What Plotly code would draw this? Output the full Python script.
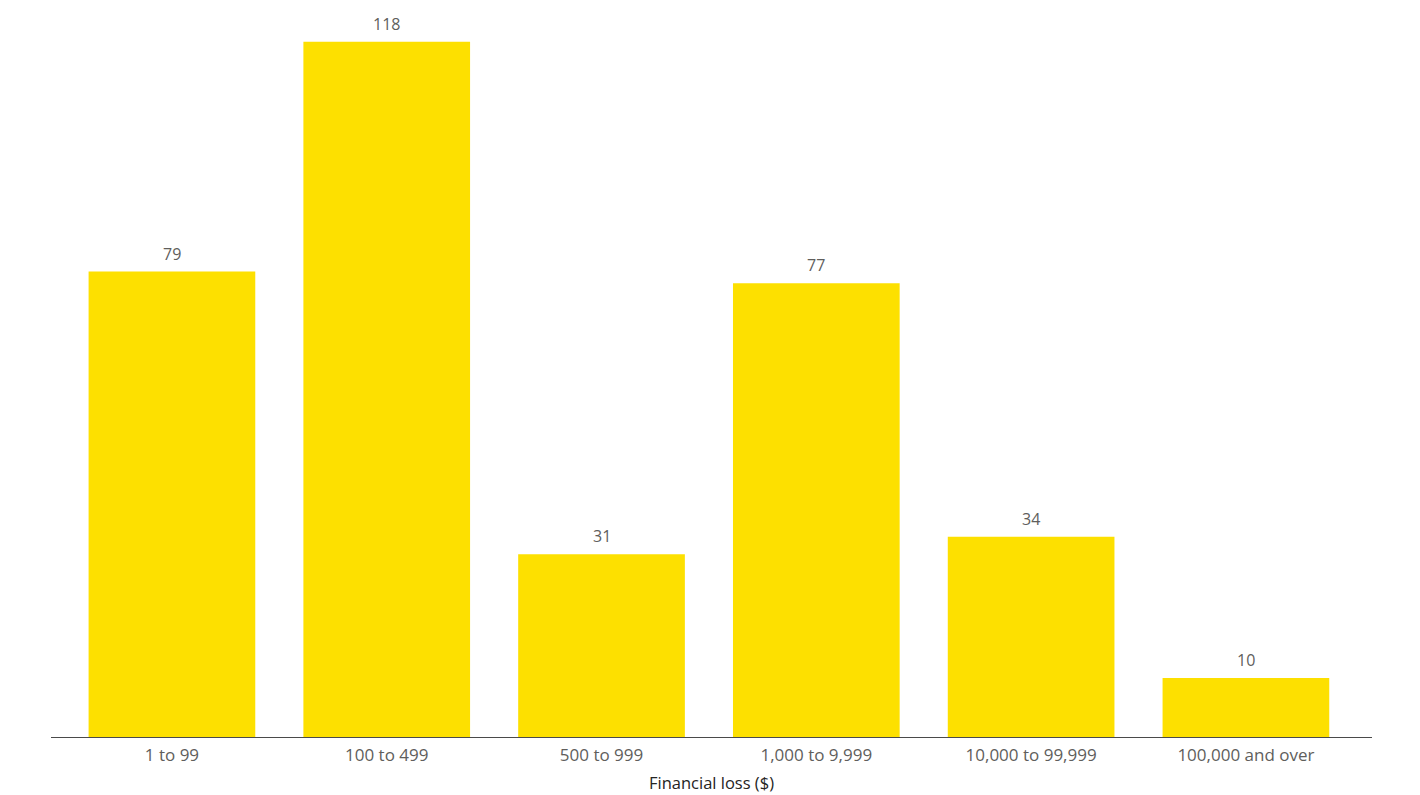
import plotly.graph_objects as go

# loss bands and how many reports fell in each
loss_bands = ["1 to 99", "100 to 499", "500 to 999", "1,000 to 9,999",
              "10,000 to 99,999", "100,000 and over"]
counts = [79, 118, 31, 77, 34, 10]

BAR_COLOR = "#FDE000"
LABEL_GREY = "#605E5C"
FONT = "Open Sans, Segoe UI, sans-serif"

xpos = list(range(len(loss_bands)))

fig = go.Figure(
    go.Bar(
        x=xpos,
        y=counts,
        marker=dict(color=BAR_COLOR, line=dict(width=0)),
        hoverinfo="x+y",
    )
)

# value labels sit a little higher above the bars than plotly's own outside text
for xi, c in zip(xpos, counts):
    fig.add_annotation(x=xi, y=c, text=str(c), showarrow=False,
                       yanchor="middle", yshift=18,
                       font=dict(family=FONT, size=16, color=LABEL_GREY))

fig.update_layout(
    width=1420,
    height=795,
    margin=dict(l=43, r=56, t=2, b=66),
    plot_bgcolor="white",
    paper_bgcolor="white",
    bargap=0.224,
    showlegend=False,
    font=dict(family=FONT, size=16, color=LABEL_GREY),
)

fig.update_xaxes(
    tickmode="array",
    tickvals=xpos,
    ticktext=loss_bands,
    range=[-0.563, 5.587],
    showline=True,
    linecolor="#4A4A4A",
    linewidth=1,
    showgrid=False,
    ticks="",
    ticklabelstandoff=3,
    tickfont=dict(family=FONT, size=17, color=LABEL_GREY),
    title=dict(text="Financial loss ($)", font=dict(family=FONT, size=16.5, color="#252423"),
               standoff=12),
)
fig.update_yaxes(range=[0, 123.4], visible=False, showgrid=False)

fig.write_html("out.html")
